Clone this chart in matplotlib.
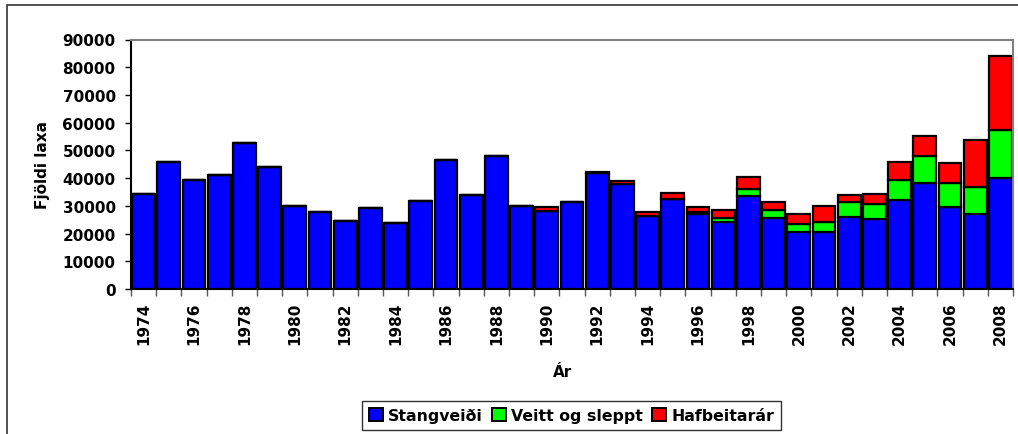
import numpy as np
import matplotlib
matplotlib.use("Agg")
import matplotlib.pyplot as plt
from matplotlib.patches import Patch, Rectangle

plt.rcParams['font.family'] = ['DejaVu Sans']
plt.rcParams['font.weight'] = 'bold'

years = list(range(1974, 2009))
stangveidi = [34200, 45800, 39300, 41300, 52600, 44100, 30000, 27700, 24700, 29200,
              23700, 31600, 46700, 33900, 47900, 30000, 28000, 31300, 42000, 37800,
              26400, 32500, 27000, 24050, 33500, 25650, 20500, 20700, 25800, 25200,
              32200, 38400, 29750, 27100, 40000]
veitt = [0, 0, 0, 0, 0, 0, 0, 0, 0, 0,
         0, 0, 0, 0, 0, 0, 0, 0, 0, 0,
         0, 0, 600, 1450, 2650, 2900, 2900, 3500, 5750, 5500,
         7200, 9400, 8650, 9800, 17200]
hafbeit = [0, 0, 0, 0, 0, 0, 0, 0, 0, 0,
           0, 0, 0, 0, 0, 0, 1400, 0, 200, 1200,
           1550, 2050, 1800, 3100, 4350, 2900, 3800, 5800, 2300, 3400,
           6400, 7250, 7000, 16800, 26800]
series_names = ['Stangveiði', 'Veitt og sleppt', 'Hafbeitarár']
colors = ['#0000FF', '#00FF00', '#FF0000']

W, H = 1018, 435
FS = 11
fig = plt.figure(figsize=(W / 100, H / 100), dpi=100)
ax = fig.add_axes([131 / W, 1 - 290 / H, (1013 - 131) / W, (290 - 40.5) / H])

x = np.arange(len(years))
s = np.array(stangveidi)
v = np.array(veitt)
h = np.array(hafbeit)
kw = dict(width=0.9, edgecolor='black', linewidth=1.6, zorder=2)
ax.bar(x, s, color=colors[0], **kw)
ax.bar(x, v, bottom=s, color=colors[1], **kw)
ax.bar(x, h, bottom=s + v, color=colors[2], **kw)

ax.set_xlim(-0.5, len(years) - 0.5)
ax.set_ylim(0, 90000)
ax.set_yticks(np.arange(0, 90001, 10000))
ax.tick_params(axis='y', direction='out', length=4.5, width=1, labelsize=FS, pad=6.5)

ax.set_xticks(np.arange(-0.5, len(years), 1))
ax.set_xticklabels([])
ax.tick_params(axis='x', which='major', direction='out', length=5, width=1, color='#555555')
ax.set_xticks(x[::2], minor=True)
ax.set_xticklabels([str(y) for y in years[::2]], minor=True, rotation=90)
ax.tick_params(axis='x', which='minor', length=0, labelsize=FS, pad=9)

for sp in ['top', 'right']:
    ax.spines[sp].set_color('#808080')
    ax.spines[sp].set_linewidth(1.5)
for sp in ['left', 'bottom']:
    ax.spines[sp].set_color('black')
    ax.spines[sp].set_linewidth(1.5)

ax.set_ylabel('Fjöldi laxa', fontsize=FS, fontweight='bold', labelpad=9)
fig.text(563 / W, 1 - 373 / H, 'Ár', fontsize=FS, fontweight='bold', ha='center', va='center')

# outer chart frame
fig.add_artist(Rectangle((7 / W, -0.1), 1.2, 1.1 - 6 / H, transform=fig.transFigure,
                         fill=False, edgecolor='#333333', linewidth=1.2))

handles = [Patch(facecolor=c, edgecolor='black', linewidth=1.4) for c in colors]
leg = fig.legend(handles, series_names, loc='upper left',
                 bbox_to_anchor=(362 / W, 1 - 402 / H), ncol=3, fontsize=11.3,
                 frameon=True, fancybox=False, edgecolor='black',
                 handlelength=0.9, handleheight=0.9, handletextpad=0.3,
                 columnspacing=0.6, borderpad=0.45, borderaxespad=0)
leg.get_frame().set_linewidth(1.0)

fig.savefig('out.png', dpi=100)
